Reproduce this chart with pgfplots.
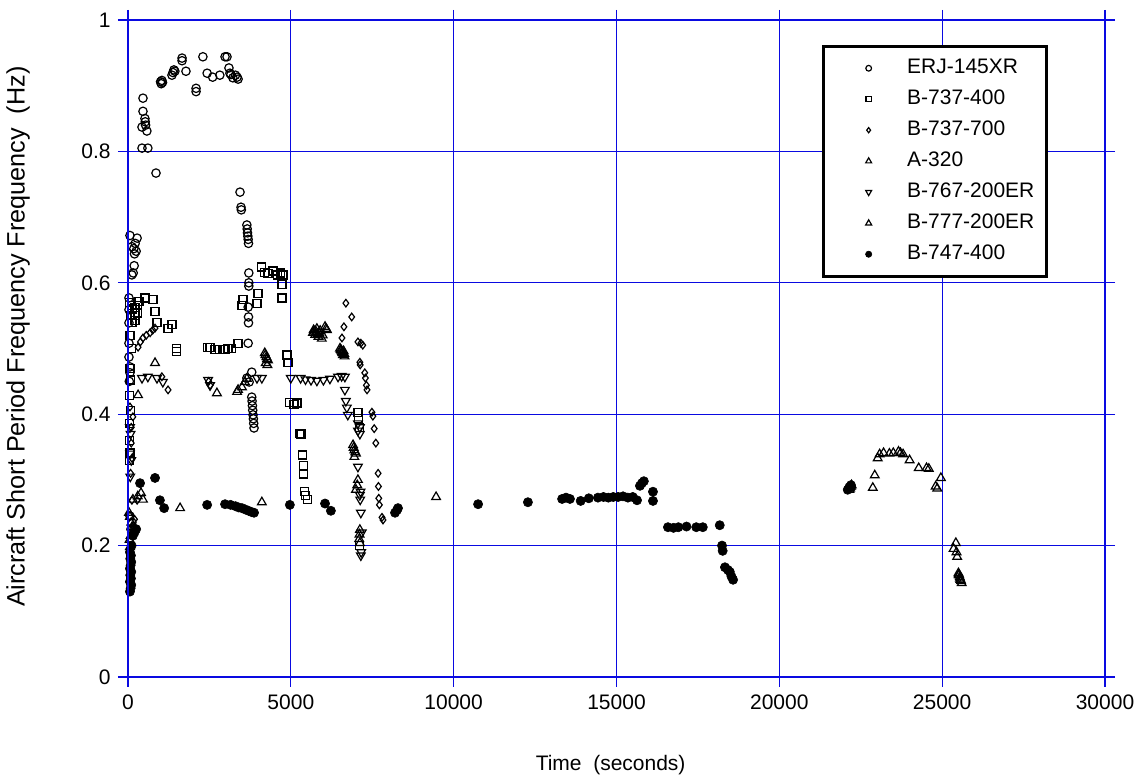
\documentclass[border=0pt]{standalone}
\usepackage{pgfplots}
\pgfplotsset{compat=1.18}
\usepackage{fontspec}
\setmainfont{Liberation Sans}
\definecolor{gridblue}{RGB}{10,10,225}

\pgfplotsset{
  erj/.style={black, only marks, mark=o, mark size=2.1pt, mark options={line width=0.6pt}},
  bfoursev/.style={black, only marks, mark=square, mark size=2.0pt, mark options={line width=0.6pt}},
  bsevsev/.style={black, only marks, mark=diamond, mark size=1.9pt, mark options={line width=0.6pt}},
  athree/.style={black, only marks, mark=triangle, mark size=2.5pt, mark options={line width=0.6pt}},
  bsixsev/.style={black, only marks, mark=triangle, mark size=2.5pt, mark options={line width=0.6pt, rotate=180}},
  bseven/.style={black, only marks, mark=triangle, mark size=2.5pt, mark options={line width=0.6pt}},
  bjumbo/.style={black, only marks, mark=*, mark size=2.3pt, mark options={line width=0.3pt}},
  frame/.style={at={(0,0)}, anchor=south west, scale only axis, width=488.5pt, height=328.5pt,
    xmin=0, xmax=30000, ymin=0, ymax=1,
    axis line style={gridblue, line width=0.6pt}, tick style={gridblue, line width=0.6pt}},
}

\begin{document}
\fontsize{10.5}{12.6}\selectfont
\begin{tikzpicture}
\useasboundingbox (-64pt,-49pt) rectangle (506.5pt,338.5pt);
% main axis: grid, major ticks, labels, data
\begin{axis}[
  frame,
  xtick={0,5000,...,30000}, ytick={0,0.2,0.4,0.6,0.8,1},
  scaled ticks=false,
  xticklabel style={/pgf/number format/1000 sep={}},
  yticklabel style={/pgf/number format/.cd, fixed, precision=1},
  /pgf/number format/assume math mode=true,
  ticklabel style={font=\fontsize{10.5}{12.6}\selectfont},
  grid=major,
  major grid style={gridblue, line width=0.6pt},
  tick align=outside, major tick length=5pt,
  xtick pos=both, ytick pos=both,
  xlabel={Time\ \ (seconds)},
  ylabel={Aircraft Short Period Frequency Frequency\ \ (Hz)},
  xlabel style={at={(axis description cs:0.494,-0.134)}, anchor=center, font=\fontsize{10.5}{12.6}\selectfont},
  ylabel style={at={(axis description cs:-0.1126,0.518)}, anchor=center, font=\fontsize{12.6}{15}\selectfont},
  legend cell align=left,
  legend style={at={(0.710,0.962)}, anchor=north west, draw=black, line width=1.5pt, fill=white,
    inner xsep=4pt, inner ysep=4.5pt, row sep=2.6pt, font=\fontsize{10.5}{12.6}\selectfont},
  legend image code/.code={\draw[#1,/tikz/every mark/.append style={scale=0.68}] plot coordinates {(0pt,0pt)}; \path (-18pt,0pt) (16.5pt,0pt);},
]

% ERJ-145XR
\addplot[erj] coordinates {
(30,0.577) (30,0.559) (30,0.539) (30,0.508) (30,0.487) (60,0.472) (60,0.463) (40,0.450)
(60,0.672) (280,0.668) (120,0.655) (180,0.652) (250,0.648) (200,0.644) (220,0.660) (190,0.626) (120,0.612) (160,0.615)
(430,0.805) (610,0.805) (460,0.881) (460,0.861) (520,0.850) (530,0.845) (540,0.840) (430,0.837) (580,0.831) (860,0.767)
(1000,0.906) (1020,0.903) (1040,0.908) (1060,0.905) (1350,0.916) (1380,0.920) (1410,0.924) (1440,0.922)
(1660,0.942) (1660,0.938) (1780,0.922) (2090,0.896) (2090,0.891) (2300,0.944) (2430,0.919) (2600,0.913)
(2820,0.916) (2980,0.944) (3040,0.944) (3100,0.927) (3130,0.919) (3160,0.917) (3220,0.912) (3300,0.916) (3350,0.913) (3380,0.910)
(3440,0.738) (3470,0.715) (3480,0.711) (3650,0.688) (3660,0.682) (3670,0.676) (3680,0.671) (3690,0.666) (3700,0.660)
(3710,0.615) (3710,0.600) (3710,0.595) (3690,0.563) (3700,0.548) (3700,0.539) (3690,0.508) (3800,0.464) (3650,0.455) (3720,0.449)
(3800,0.426) (3810,0.420) (3820,0.413) (3830,0.406) (3840,0.399) (3850,0.393) (3860,0.386) (3870,0.379)
(60,0.245) (120,0.235) (90,0.225)
};
\addlegendentry{ERJ-145XR}

% B-737-400
\addplot[bfoursev] coordinates {
(50,0.570) (100,0.565) (150,0.560) (80,0.550) (120,0.540) (60,0.520) (100,0.500) (60,0.470) (80,0.452) (50,0.429)
(70,0.406) (50,0.386) (50,0.360) (60,0.341) (40,0.330) (215,0.563) (215,0.550) (215,0.543)
(280,0.566) (280,0.554) (520,0.577) (770,0.574) (830,0.556) (340,0.572) (890,0.539) (1230,0.531) (1350,0.536) (1500,0.495) (1500,0.500)
(2430,0.502) (2520,0.502) (2670,0.498) (2820,0.498) (2980,0.498) (3070,0.500) (3190,0.500) (3380,0.508)
(3530,0.574) (3500,0.566) (3990,0.584) (3960,0.569) (4730,0.597) (4730,0.577)
(4110,0.624) (4200,0.616) (4300,0.614) (4450,0.618) (4600,0.612) (4760,0.612) (4680,0.615)
(4880,0.490) (4910,0.479) (4970,0.418) (5190,0.417) (5100,0.415) (5280,0.371) (5310,0.370)
(5370,0.338) (5380,0.322) (5400,0.309) (5430,0.282) (5450,0.276) (5500,0.270)
(7060,0.402) (7080,0.394) (7100,0.380) (7120,0.200)
};
\addlegendentry{B-737-400}

% B-737-700
\addplot[bsevsev] coordinates {
(310,0.502) (380,0.510) (460,0.516) (560,0.520) (680,0.524) (760,0.528) (830,0.531) (1040,0.457) (1230,0.437) (2520,0.444) (2480,0.450)
(60,0.411) (150,0.396) (100,0.380) (100,0.356) (120,0.333) (80,0.310) (120,0.269) (280,0.269) (150,0.230) (200,0.240)
(6690,0.569) (6870,0.548) (6630,0.533) (6570,0.516) (7060,0.510) (7150,0.508) (7210,0.505) (7120,0.479) (7130,0.475)
(7270,0.463) (7290,0.455) (7320,0.444) (7340,0.437) (7490,0.403) (7520,0.397) (7560,0.378) (7610,0.356)
(7680,0.310) (7690,0.290) (7700,0.272) (7720,0.262) (7800,0.243) (7830,0.239)
};
\addlegendentry{B-737-700}

% A-320
\addplot[athree] coordinates {
(830,0.478) (310,0.429) (1600,0.257) (2730,0.432) (3350,0.434) (3380,0.437) (3500,0.441) (3590,0.449) (3650,0.454)
(4110,0.266) (9460,0.274) (150,0.270) (300,0.275) (400,0.280) (460,0.270)
(22870,0.288) (22930,0.307) (23020,0.333) (23080,0.339) (23200,0.341) (23380,0.340) (23500,0.341) (23660,0.343)
(23720,0.341) (23800,0.339) (24000,0.330) (24280,0.318) (24520,0.318) (24590,0.317) (24960,0.303) (24800,0.290) (24850,0.287)
(25420,0.204) (25350,0.195) (25440,0.190) (25460,0.183)
};
\addlegendentry{A-320}

% B-767-200ER
\addplot[bsixsev] coordinates {
(430,0.455) (610,0.457) (890,0.455) (1070,0.449) (2460,0.452) (2520,0.444) (3960,0.455) (4110,0.455)
(5000,0.455) (5300,0.455) (5450,0.453) (5620,0.452) (5800,0.451) (6000,0.452) (6200,0.454) (6450,0.457) (6560,0.458) (6660,0.457)
(6660,0.437) (6690,0.420) (6720,0.410) (6750,0.399) (7060,0.386) (7060,0.375) (7060,0.320) (7120,0.380) (7120,0.370)
(7120,0.277) (7130,0.270) (7150,0.250) (7180,0.220) (7160,0.190) (7150,0.185) (7140,0.282)
(60,0.380) (80,0.370) (60,0.340) (70,0.305) (100,0.330)
};
\addlegendentry{B-767-200ER}

% B-777-200ER
\addplot[bseven] coordinates {
(5680,0.524) (5700,0.528) (5720,0.526) (5750,0.521) (5780,0.525) (5800,0.530) (5830,0.522) (5850,0.518) (5880,0.523)
(5900,0.527) (5950,0.515) (5980,0.520) (6050,0.533) (6080,0.530) (6110,0.528)
(6510,0.500) (6530,0.498) (6550,0.497) (6570,0.495) (6580,0.493) (6600,0.490) (6620,0.496) (6640,0.492) (6650,0.488)
(4200,0.493) (4220,0.490) (4250,0.487) (4270,0.484) (4300,0.482) (4230,0.478) (4280,0.475)
(6910,0.353) (6930,0.349) (6950,0.345) (6980,0.342) (7000,0.340) (6950,0.335) (7060,0.300) (7040,0.292) (7000,0.285)
(7120,0.224) (7110,0.217) (7100,0.210) (7120,0.204)
(30,0.250) (60,0.244) (100,0.235) (130,0.224) (80,0.215) (50,0.209) (120,0.228) (60,0.198)
(22150,0.285) (22170,0.287) (22180,0.289) (22200,0.290) (22220,0.292)
(25500,0.158) (25510,0.156) (25520,0.155) (25540,0.152) (25550,0.150) (25560,0.148) (25580,0.146) (25600,0.143)
};
\addlegendentry{B-777-200ER}

% B-747-400
\addplot[bjumbo] coordinates {
(60,0.130) (80,0.135) (100,0.140) (60,0.145) (90,0.150) (70,0.155) (100,0.160) (60,0.165) (80,0.170) (100,0.175)
(70,0.180) (90,0.185) (60,0.190) (110,0.200) (150,0.215) (200,0.220) (250,0.225)
(370,0.295) (830,0.303) (980,0.269) (1110,0.257) (2430,0.262) (2980,0.263) (3150,0.262) (3300,0.260) (3400,0.258)
(3500,0.257) (3600,0.255) (3700,0.253) (3800,0.251) (3870,0.250) (4970,0.262) (6050,0.264) (6230,0.253)
(8200,0.250) (8260,0.254) (8290,0.257)
(10750,0.263) (12280,0.266) (13330,0.271) (13450,0.273) (13570,0.271) (13900,0.268) (14150,0.272) (14430,0.273)
(14600,0.274) (14750,0.273) (14900,0.274) (15050,0.274) (15200,0.275) (15350,0.273) (15500,0.274) (15630,0.269)
(15720,0.291) (15780,0.295) (15840,0.298) (16120,0.282) (16120,0.268)
(16580,0.228) (16750,0.227) (16900,0.228) (17150,0.229) (17450,0.228) (17650,0.228) (18170,0.231)
(18240,0.200) (18260,0.192) (18330,0.167) (18420,0.163) (18480,0.160) (18530,0.153) (18580,0.148)
(22100,0.285) (22150,0.289) (22200,0.292)
};
\addlegendentry{B-747-400}
\end{axis}

% minor ticks: inward on the left, right and bottom
\begin{axis}[
  frame,
  xtick=\empty, ytick=\empty,
  minor xtick={0,1000,...,30000}, minor ytick={0,0.05,...,1},
  tick align=inside, minor tick length=2.5pt,
  xtick pos=bottom, ytick pos=both,
]
\end{axis}

% minor ticks on the top edge, pointing up
\begin{axis}[
  frame,
  xtick=\empty, ytick=\empty,
  minor xtick={0,1000,...,30000},
  tick align=outside, minor tick length=2.5pt,
  xtick pos=top,
]
\end{axis}
\end{tikzpicture}
\end{document}
